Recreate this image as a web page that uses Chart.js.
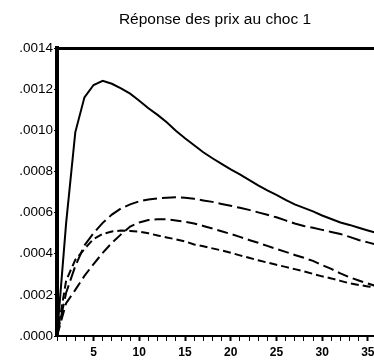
<!DOCTYPE html>
<html>
<head>
<meta charset="utf-8">
<script src="https://cdn.jsdelivr.net/npm/chart.js@4"></script>
<style>
  html, body { margin: 0; padding: 0; background: #fff; overflow: hidden; }
  #wrap { width: 386px; height: 363px; }
</style>
</head>
<body>
<div id="wrap"><canvas id="myChart" width="386" height="363"></canvas></div>
<script>
const periods = [1,2,3,4,5,6,7,8,9,10,11,12,13,14,15,16,17,18,19,20,21,22,23,24,25,26,27,28,29,30,31,32,33,34,35,36]

// response (solid) and the three dashed curves
const response = [0, 0.00055, 0.00099, 0.00116, 0.00122, 0.00124, 0.001226, 0.001204, 0.001178, 0.001144, 0.001107, 0.001075,
  0.001039, 0.000998, 0.000961, 0.000927, 0.000893, 0.000864, 0.000837, 0.00081, 0.000786, 0.000759, 0.000732, 0.000708,
  0.000686, 0.000662, 0.00064, 0.000623, 0.000606, 0.000586, 0.000569, 0.000552, 0.00054, 0.000526, 0.000513, 0.000501]
const upperBand = [0, 0.00021, 0.00034, 0.00044, 0.0005, 0.00055, 0.00059, 0.00062, 0.00064, 0.000655, 0.000664, 0.000669,
  0.000672, 0.000674, 0.000672, 0.000667, 0.000659, 0.000652, 0.000642, 0.000633, 0.000623, 0.000613, 0.000601, 0.000589,
  0.000577, 0.000562, 0.000547, 0.000535, 0.000526, 0.000516, 0.000506, 0.000496, 0.000482, 0.000467, 0.000455, 0.000443]
const midBand = [0, 0.00016, 0.000224, 0.000292, 0.00035, 0.000404, 0.000453, 0.000494, 0.000532, 0.000552, 0.000564, 0.000567,
  0.000567, 0.000562, 0.000555, 0.000547, 0.000535, 0.000523, 0.000509, 0.000496, 0.000482, 0.000467, 0.000453, 0.000438,
  0.000423, 0.000409, 0.000394, 0.00038, 0.000365, 0.000345, 0.000326, 0.000304, 0.000285, 0.00027, 0.000255, 0.000241]
const lowBand = [0, 0.00027, 0.00037, 0.000423, 0.000472, 0.000496, 0.000508, 0.000513, 0.000511, 0.000507, 0.000499, 0.000489,
  0.000479, 0.00047, 0.00046, 0.000445, 0.000436, 0.000426, 0.000416, 0.000405, 0.000392, 0.00038, 0.000368, 0.000357,
  0.000346, 0.000336, 0.000325, 0.000314, 0.000302, 0.00029, 0.00028, 0.000268, 0.000256, 0.000248, 0.000241, 0.000234]

const yTicks = [0, 0.0002, 0.0004, 0.0006, 0.0008, 0.0010, 0.0012, 0.0014]
const xLabels = [5, 10, 15, 20, 25, 30, 35]
const titleText = 'Réponse des prix au choc 1'

const pts = (arr) => arr.map((v, i) => ({x: periods[i], y: v}))

function line(label, arr, dash) {
  return {
    label: label,
    data: pts(arr),
    borderColor: '#000',
    borderWidth: 2,
    borderDash: dash,
    pointRadius: 0,
    tension: 0,
    fill: false
  }
}

// title centred over the plot area (the plot runs off the right edge)
const plotTitle = {
  id: 'plotTitle',
  afterDraw(chart) {
    const {ctx, chartArea} = chart
    ctx.save()
    ctx.fillStyle = '#000'
    ctx.font = '15.5px "Liberation Sans", Arial'
    ctx.textAlign = 'center'
    ctx.textBaseline = 'middle'
    ctx.fillText(titleText, (chartArea.left + chartArea.right) / 2 - 2, 20)
    ctx.restore()
  }
}

const ctx = document.getElementById('myChart').getContext('2d')
const chart = new Chart(ctx, {
  type: 'line',
  data: {
    datasets: [
      line('response', response, []),
      line('upper', upperBand, [14, 5]),
      line('mid', midBand, [11, 5]),
      line('low', lowBand, [8, 4])
    ]
  },
  plugins: [plotTitle],
  options: {
    responsive: false,
    animation: false,
    layout: { padding: { left: 0, right: 9, top: 48, bottom: 0 } },
    plugins: {
      legend: { display: false },
      tooltip: { enabled: false },
      title: { display: false }
    },
    scales: {
      x: {
        type: 'linear',
        min: 1,
        max: 36,
        afterFit: (s) => { s.height = 27 },
        afterBuildTicks: (s) => { s.ticks = periods.map(p => ({value: p})) },
        grid: {
          drawOnChartArea: false,
          drawTicks: true,
          tickLength: 5,
          color: '#000',
          tickWidth: (c) => (c.tick && c.tick.value % 5 === 0) ? 2 : 1
        },
        border: { display: true, color: '#000', width: 2 },
        ticks: {
          autoSkip: false,
          maxRotation: 0,
          padding: 4,
          color: '#000',
          font: { family: 'Liberation Sans, Arial', size: 12, weight: 'bold' },
          callback: (v) => xLabels.includes(v) ? String(v) : ''
        }
      },
      top: {
        type: 'linear',
        position: 'top',
        min: 1,
        max: 36,
        afterFit: (s) => { s.height = 0 },
        grid: { display: false },
        ticks: { display: false },
        border: { display: true, color: '#000', width: 3 }
      },
      y: {
        min: 0,
        max: 0.0014,
        afterFit: (s) => { s.width = 57 },
        afterBuildTicks: (s) => { s.ticks = yTicks.map(v => ({value: v})) },
        grid: {
          drawOnChartArea: false,
          drawTicks: true,
          tickLength: 3,
          color: '#000'
        },
        border: { display: true, color: '#000', width: 4 },
        ticks: {
          padding: 1,
          color: '#000',
          font: { family: 'Liberation Sans, Arial', size: 13.5 },
          callback: (v) => v.toFixed(4).replace(/^0/, '')
        }
      }
    }
  }
})
</script>
</body>
</html>
